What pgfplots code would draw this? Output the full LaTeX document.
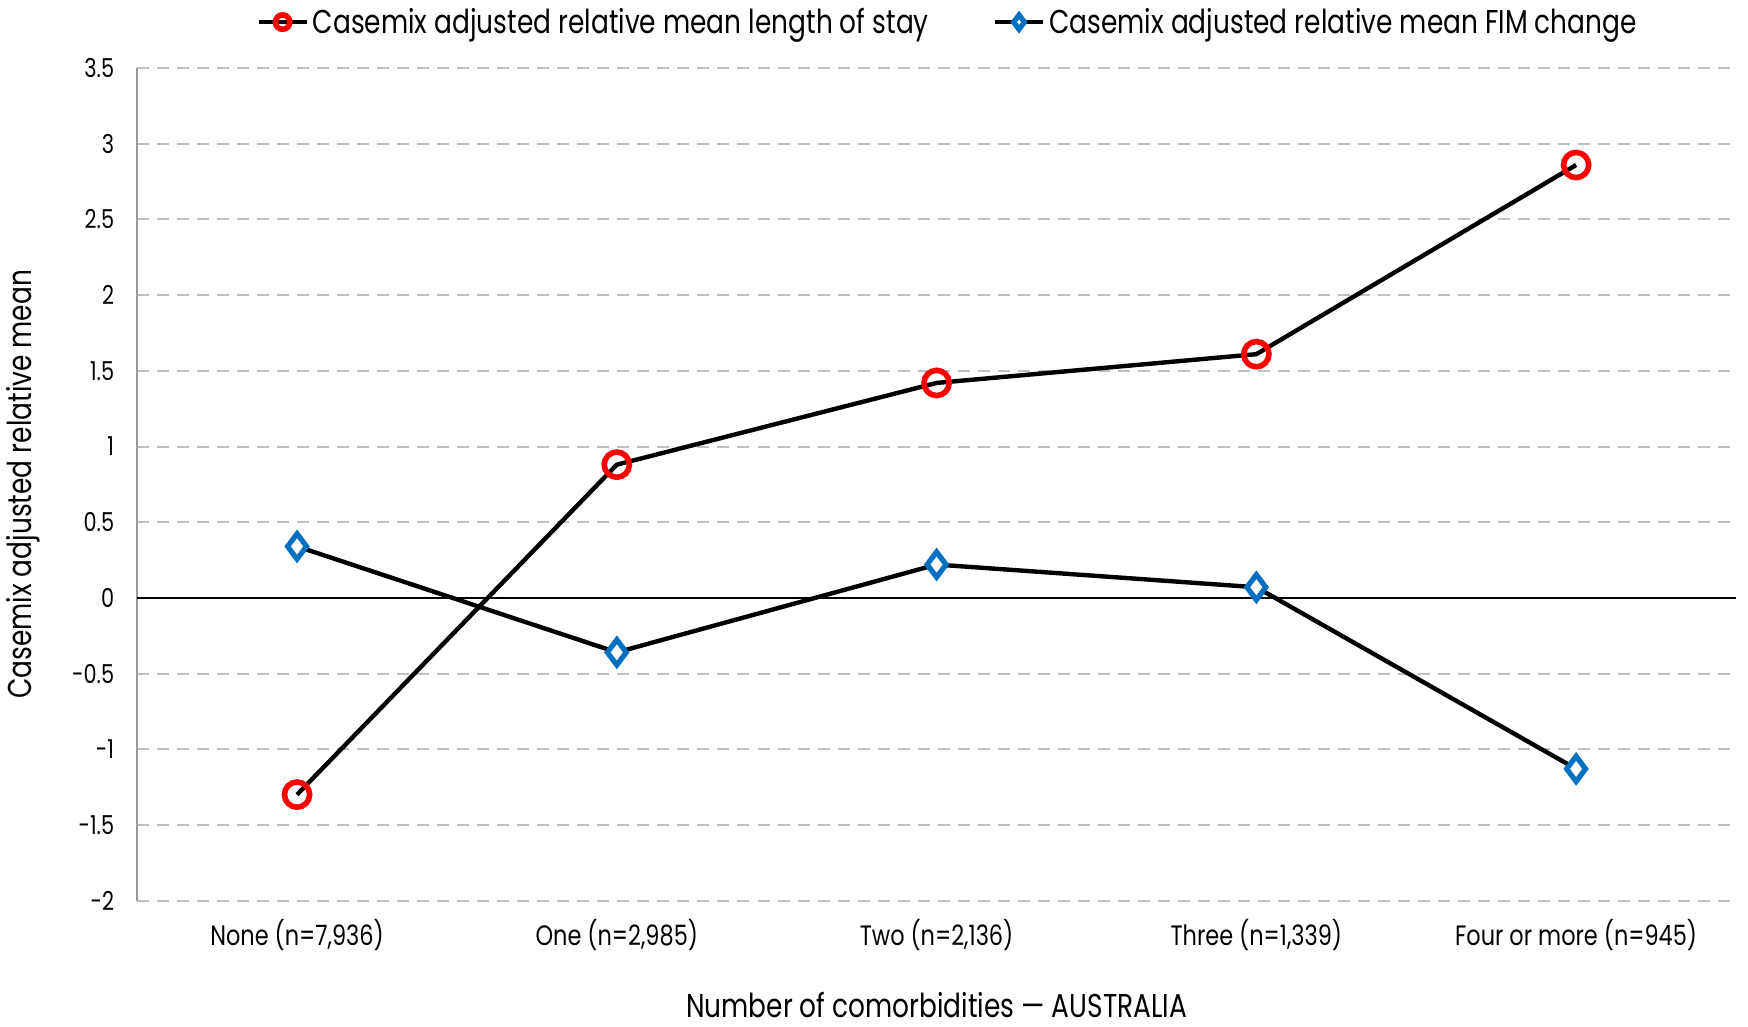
\documentclass[border=0pt]{standalone}
\usepackage{fontspec}
\setmainfont[FakeStretch=0.8]{Poppins}
\usepackage{pgfplots}
\pgfplotsset{compat=1.18}
\definecolor{losred}{RGB}{255,0,0}
\definecolor{fimblue}{RGB}{0,112,192}
\definecolor{gridgray}{RGB}{191,191,191}

\begin{document}
\begin{tikzpicture}
\begin{axis}[
    scale only axis,
    width=799pt, height=416pt,
    xmin=-0.5, xmax=4.5,
    ymin=-2, ymax=3.5,
    xtick={0,1,2,3,4},
    xticklabels={{None (n=7,936)},{One (n=2,985)},{Two (n=2,136)},{Three (n=1,339)},{Four or more (n=945)}},
    ytick={-2,-1.5,-1,-0.5,0,0.5,1,1.5,2,2.5,3,3.5},
    axis x line*=bottom, axis y line*=left,
    x axis line style={draw=none},
    y axis line style={draw=gray!80, line width=0.8pt},
    major tick length=0pt,
    ymajorgrids,
    major grid style={gridgray, line width=1pt, dash pattern=on 6pt off 4pt},
    /pgf/number format/assume math mode=true,
    ticklabel style={font=\fontsize{13}{15}\selectfont},
    yticklabel style={xshift=-8pt},
    xticklabel style={yshift=-6pt, font=\fontsize{14}{16}\selectfont},
    xlabel={Number of comorbidities — AUSTRALIA},
    ylabel={Casemix adjusted relative mean},
    label style={font=\fontsize{16.5}{19}\selectfont},
    xlabel style={yshift=-14pt},
    ylabel style={yshift=9pt},
    legend columns=2,
    legend style={at={(0.5,1)}, anchor=center, yshift=23pt, xshift=6pt, draw=none,
        font=\fontsize{16.5}{19}\selectfont, /tikz/every even column/.append style={column sep=30pt}},
    legend image code/.code={\draw[mark repeat=2, mark phase=2, #1, mark size=3.6pt] plot coordinates {(0pt,0pt) (12pt,0pt) (24pt,0pt)};},
]
\draw[black, line width=0.9pt] (axis cs:-0.5,0) -- (axis cs:4.5,0);
\addplot[black, line width=2.2pt, mark=o, mark size=6.3pt,
    mark options={draw=losred, fill=white, line width=2.8pt, solid}]
    coordinates {(0,-1.30) (1,0.88) (2,1.42) (3,1.61) (4,2.86)};
\addlegendentry{Casemix adjusted relative mean length of stay}
\addplot[black, line width=2.2pt, mark=diamond*, mark size=6.3pt,
    mark options={draw=fimblue, fill=white, line width=2.6pt, solid}]
    coordinates {(0,0.34) (1,-0.36) (2,0.22) (3,0.07) (4,-1.13)};
\addlegendentry{Casemix adjusted relative mean FIM change}
\end{axis}
\path ([xshift=6pt]current axis.east);
\path ([yshift=-1pt]current axis.outer south);
\end{tikzpicture}
\end{document}
